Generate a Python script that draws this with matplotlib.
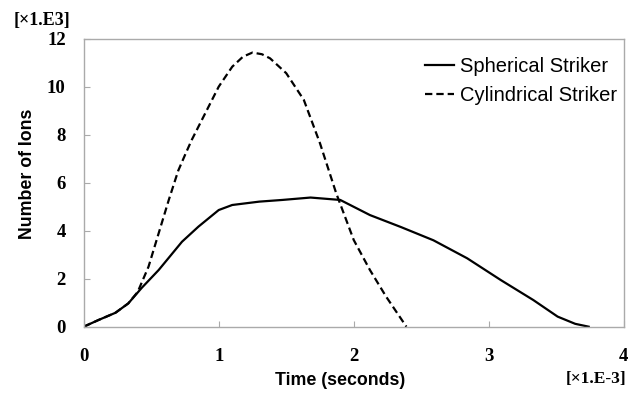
import matplotlib
matplotlib.use("Agg")
import matplotlib.pyplot as plt

# Data (time in 1e-3 s, ions in 1e3)
sph_t = [0.0, 0.11, 0.235, 0.33, 0.43, 0.555, 0.728, 0.85, 1.0, 1.10, 1.30, 1.47, 1.68, 1.90, 2.12, 2.35, 2.59, 2.84, 3.09, 3.33, 3.51, 3.64, 3.74]
sph_n = [0.0, 0.28, 0.58, 0.97, 1.62, 2.36, 3.54, 4.17, 4.86, 5.07, 5.21, 5.28, 5.38, 5.28, 4.65, 4.15, 3.60, 2.85, 1.94, 1.11, 0.42, 0.12, 0.0]
cyl_t = [0.0, 0.11, 0.235, 0.33, 0.40, 0.48, 0.555, 0.63, 0.70, 0.75, 0.80, 0.90, 1.0, 1.10, 1.18, 1.25, 1.32, 1.38, 1.50, 1.63, 1.75, 1.87, 2.0, 2.12, 2.24, 2.39]
cyl_n = [0.0, 0.28, 0.58, 0.97, 1.45, 2.50, 3.89, 5.28, 6.50, 7.15, 7.78, 8.89, 10.0, 10.83, 11.25, 11.42, 11.35, 11.18, 10.56, 9.45, 7.64, 5.56, 3.61, 2.36, 1.25, 0.0]

xticks = [0, 1, 2, 3, 4]
yticks = [0, 2, 4, 6, 8, 10, 12]

fig = plt.figure(figsize=(6.28, 3.93), dpi=100)
ax = fig.add_axes([0.1333, 0.1687, 0.86, 0.733])

ax.plot(sph_t, sph_n, color="black", lw=1.6, solid_joinstyle="round", label="Spherical Striker")
ax.plot(cyl_t, cyl_n, color="black", lw=1.6, ls=(0, (3.3, 1.8)), label="Cylindrical Striker")

ax.set_xlim(0, 4)
ax.set_ylim(0, 12)
ax.set_xticks(xticks)
ax.set_yticks(yticks)
serif = ["Liberation Serif", "DejaVu Serif"]
ax.set_xticklabels([str(v) for v in xticks], family=serif, fontweight="bold", fontsize=13.5)
ax.set_yticklabels([str(v) for v in yticks], family=serif, fontweight="bold", fontsize=13.5)
ax.tick_params(axis="x", direction="in", length=4, color="#aaaaaa", pad=15)
ax.tick_params(axis="y", direction="in", length=4, color="#aaaaaa", pad=13)
for s in ax.spines.values():
    s.set_color("#aaaaaa")
    s.set_linewidth(1.0)

sans = ["Liberation Sans", "DejaVu Sans"]
ax.set_xlabel("Time (seconds)", family=sans, fontweight="bold", fontsize=12.8)
ax.set_ylabel("Number of Ions", family=sans, fontweight="bold", fontsize=12.8)
ax.xaxis.set_label_coords(0.475, -0.158)
ax.yaxis.set_label_coords(-0.088, 0.53)

fig.text(0.021, 0.949, "[×1.E3]", family=serif, fontweight="bold", fontsize=13, ha="left", va="center")
fig.text(0.997, 0.036, "[×1.E-3]", family=serif, fontweight="bold", fontsize=12.5, ha="right", va="center")

leg = ax.legend(loc="upper right", bbox_to_anchor=(0.9876, 0.935), frameon=False,
                borderpad=0, borderaxespad=0,
                prop={"family": sans, "size": 14.5}, handlelength=1.45, handletextpad=0.3,
                labelspacing=0.5)

fig.savefig("out.png", dpi=100)
